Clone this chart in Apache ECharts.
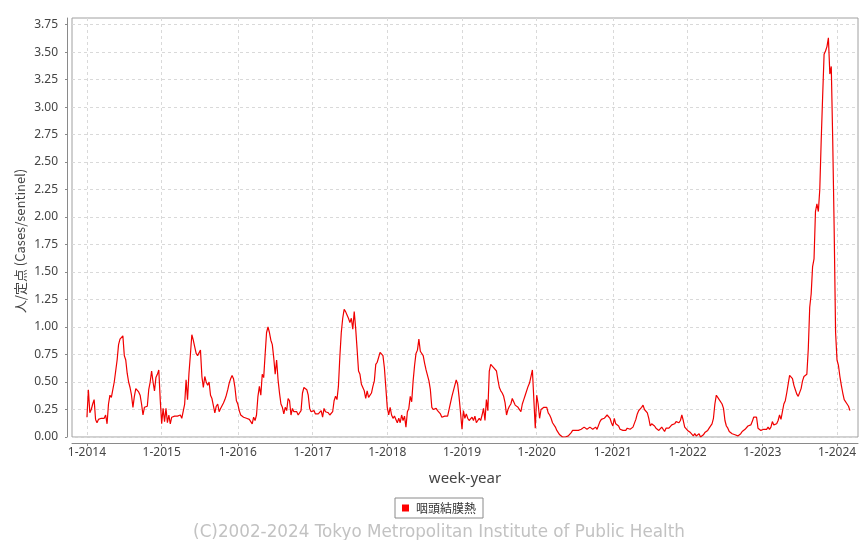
<!DOCTYPE html>
<html>
<head>
<meta charset="utf-8">
<script src="https://cdn.jsdelivr.net/npm/echarts@6/dist/echarts.min.js"></script>
<style>
  html, body { margin: 0; padding: 0; background: #ffffff; }
  #chart { width: 861px; height: 540px; }
</style>
</head>
<body>
<div id="chart"></div>
<script>
// Weekly reports per sentinel, one array per year (week 1 onward)
const years = [2014, 2015, 2016, 2017, 2018, 2019, 2020, 2021, 2022, 2023, 2024];

const y2014 = [0.18,0.43,0.22,0.25,0.30,0.34,0.16,0.13,0.16,0.17, 0.17,0.18,0.17,0.20,0.12,0.30,0.38,0.36,0.35,0.50,
               0.60,0.70,0.84,0.89,0.90,0.92,0.74,0.70,0.58,0.50, 0.45,0.38,0.27,0.37,0.44,0.45,0.41,0.38,0.30,0.20,
               0.27,0.27,0.28,0.43,0.50,0.60,0.50,0.42,0.54,0.57, 0.61,0.34];
const y2015 = [0.12,0.26,0.14,0.26,0.13,0.20,0.12,0.18,0.17,0.19, 0.20,0.19,0.20,0.20,0.17,0.18,0.30,0.52,0.34,0.58,
               0.75,0.93,0.88,0.82,0.76,0.74,0.73,0.79,0.55,0.45, 0.55,0.50,0.47,0.50,0.38,0.35,0.34,0.22,0.28,0.30,
               0.23,0.26,0.27,0.31,0.34,0.38,0.43,0.49,0.53,0.56, 0.53,0.45,0.33];
const y2016 = [0.30,0.24,0.20,0.21,0.18,0.19,0.17,0.17,0.16,0.15, 0.12,0.18,0.15,0.20,0.37,0.46,0.38,0.57,0.54,0.75,
               0.95,1.00,0.95,0.88,0.84,0.72,0.57,0.70,0.52,0.40, 0.30,0.27,0.21,0.27,0.24,0.35,0.33,0.20,0.26,0.23,
               0.22,0.23,0.20,0.21,0.24,0.40,0.45,0.45,0.43,0.38, 0.26,0.23];
const y2017 = [0.23,0.24,0.21,0.22,0.21,0.20,0.24,0.18,0.26,0.23, 0.24,0.22,0.20,0.21,0.23,0.33,0.37,0.34,0.46,0.73,
               0.95,1.08,1.16,1.14,1.11,1.08,1.04,1.08,0.98,1.14, 0.99,0.80,0.60,0.57,0.48,0.45,0.42,0.35,0.42,0.36,
               0.37,0.40,0.46,0.51,0.66,0.68,0.68,0.77,0.76,0.74, 0.63,0.45];
const y2018 = [0.27,0.20,0.27,0.20,0.17,0.19,0.16,0.13,0.17,0.13, 0.20,0.15,0.19,0.09,0.23,0.26,0.37,0.32,0.51,0.65,
               0.76,0.79,0.89,0.78,0.78,0.74,0.67,0.61,0.56,0.51, 0.43,0.27,0.25,0.26,0.26,0.24,0.25,0.21,0.18,0.18,
               0.19,0.19,0.19,0.20,0.31,0.37,0.42,0.47,0.52,0.48, 0.36,0.22];
const y2019 = [0.07,0.24,0.17,0.21,0.17,0.15,0.16,0.18,0.15,0.19, 0.13,0.15,0.17,0.15,0.20,0.26,0.15,0.34,0.24,0.60,
               0.66,0.65,0.63,0.64,0.60,0.52,0.45,0.42,0.40,0.37, 0.31,0.20,0.25,0.28,0.30,0.35,0.32,0.29,0.30,0.27,
               0.26,0.23,0.30,0.34,0.38,0.37,0.46,0.49,0.55,0.61, 0.60,0.08];
const y2020 = [0.38,0.30,0.17,0.25,0.26,0.27,0.26,0.27,0.22,0.20, 0.17,0.13,0.12,0.09,0.06,0.04,0.02,0.01,0.00,0.00,
               0.00,0.00,0.01,0.02,0.04,0.06,0.05,0.06,0.07,0.06, 0.07,0.07,0.08,0.09,0.09,0.07,0.07,0.09,0.09,0.07,
               0.06,0.09,0.07,0.08,0.14,0.16,0.16,0.17,0.18,0.20, 0.20,0.17,0.13];
const y2021 = [0.10,0.17,0.12,0.13,0.10,0.07,0.07,0.06,0.07,0.06, 0.08,0.09,0.07,0.07,0.09,0.10,0.16,0.21,0.24,0.23,
               0.27,0.29,0.25,0.26,0.22,0.17,0.10,0.12,0.11,0.10, 0.08,0.07,0.06,0.06,0.09,0.08,0.05,0.08,0.08,0.08,
               0.09,0.11,0.12,0.12,0.14,0.13,0.13,0.15,0.20,0.15, 0.09,0.08];
const y2022 = [0.06,0.05,0.04,0.03,0.01,0.03,0.01,0.02,0.03,0.00, 0.01,0.02,0.04,0.05,0.06,0.08,0.09,0.12,0.17,0.30,
               0.38,0.36,0.34,0.33,0.30,0.26,0.15,0.10,0.08,0.05, 0.04,0.03,0.03,0.02,0.02,0.01,0.02,0.03,0.05,0.06,
               0.07,0.07,0.10,0.10,0.11,0.14,0.18,0.18,0.18,0.08, 0.07,0.06];
const y2023 = [0.06,0.07,0.07,0.07,0.09,0.07,0.09,0.14,0.11,0.12, 0.12,0.15,0.20,0.16,0.23,0.30,0.33,0.40,0.48,0.56,
               0.56,0.53,0.47,0.43,0.39,0.37,0.38,0.44,0.51,0.55, 0.56,0.57,0.80,1.18,1.30,1.55,1.62,2.05,2.12,2.05,
               2.25,2.70,3.10,3.48,3.51,3.55,3.63,3.30,3.37,2.70, 1.90,0.95];
const y2024 = [0.70,0.65,0.55,0.47,0.40,0.34,0.33,0.30,0.28,0.24];

const weeklyByYear = [y2014, y2015, y2016, y2017, y2018, y2019, y2020, y2021, y2022, y2023, y2024];
const yTicks = [0, 0.25, 0.5, 0.75, 1, 1.25, 1.5, 1.75, 2, 2.25, 2.5, 2.75, 3, 3.25, 3.5, 3.75];
const seriesName = '咽頭結膜熱';

// Running week index: each year's week 1 gets a labelled tick "1-YYYY"
const points = [];
const yearStarts = [];
const tickLabel = {};
let weekIndex = 0;
weeklyByYear.forEach((arr, k) => {
  yearStarts.push(weekIndex);
  tickLabel[weekIndex] = '1-' + years[k];
  arr.forEach(v => { points.push([weekIndex, v]); weekIndex++; });
});

const gridColor = '#d9d9d9';
const axisColor = '#8a8a8a';
const labelFont = { color: '#444', fontFamily: 'Noto Sans', fontSize: 12 };

const chart = echarts.init(document.getElementById('chart'), null, { renderer: 'canvas' });
chart.setOption({
  animation: false,
  backgroundColor: '#ffffff',
  grid: {
    left: 72, right: 3, top: 18, bottom: 103,
    show: true, borderColor: '#a0a0a0', borderWidth: 1, backgroundColor: '#ffffff'
  },
  xAxis: {
    type: 'value',
    min: -10.4, max: 536.6,
    offset: 6,
    axisLine: { show: true, onZero: false, lineStyle: { color: axisColor } },
    axisTick: { show: true, length: 3, customValues: yearStarts, lineStyle: { color: axisColor } },
    axisLabel: Object.assign({ customValues: yearStarts, margin: 4, formatter: v => tickLabel[v] || '' }, labelFont),
    splitLine: { show: true, lineStyle: { color: gridColor, type: [3, 3], width: 1 } },
    name: 'week-year',
    nameLocation: 'middle',
    nameGap: 28,
    nameTextStyle: { color: '#444', fontFamily: 'Noto Sans', fontSize: 15 }
  },
  yAxis: {
    type: 'value',
    min: 0, max: 3.81,
    offset: 5,
    axisLine: { show: true, onZero: false, lineStyle: { color: axisColor } },
    axisTick: { show: true, length: 2, customValues: yTicks, lineStyle: { color: axisColor } },
    axisLabel: Object.assign({ customValues: yTicks, margin: 9, formatter: v => v.toFixed(2) }, labelFont),
    splitLine: { show: true, lineStyle: { color: gridColor, type: [3, 3], width: 1 } }
  },
  legend: {
    data: [{ name: seriesName, icon: 'rect' }],
    left: 395, top: 498,
    itemWidth: 7, itemHeight: 7, itemGap: 5,
    padding: [4, 7, 4, 7],
    borderColor: '#8a8a8a', borderWidth: 1, borderRadius: 0,
    textStyle: { color: '#333', fontFamily: 'Noto Sans CJK JP', fontSize: 12, padding: [0, 0, 0, 2] }
  },
  graphic: [
    {
      type: 'text', x: 20, y: 241, rotation: Math.PI / 2,
      style: { text: '人/定点 (Cases/sentinel)', fill: '#444', fontFamily: 'Noto Sans CJK JP', fontSize: 13, align: 'center', verticalAlign: 'middle' }
    },
    {
      type: 'text', x: 439, y: 533,
      style: { text: '(C)2002-2024 Tokyo Metropolitan Institute of Public Health', fill: '#c2c2c2', fontFamily: 'DejaVu Sans', fontSize: 16.8, align: 'center', verticalAlign: 'middle' }
    }
  ],
  series: [{
    name: seriesName,
    type: 'line',
    data: points,
    showSymbol: false,
    symbol: 'none',
    color: '#ff0000',
    lineStyle: { color: '#f00000', width: 1.2 },
    itemStyle: { color: '#ff0000' }
  }]
});
</script>
</body>
</html>
